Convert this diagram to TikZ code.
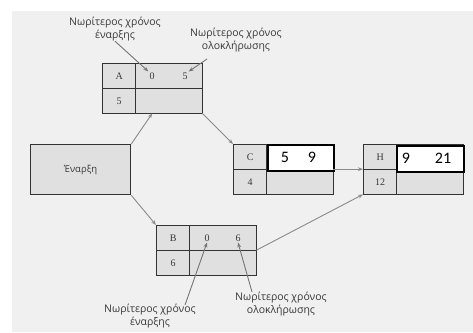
\documentclass[tikz,border=0pt]{standalone}
\usepackage{fontspec}
\setmainfont{Liberation Serif}
\newfontfamily\labelfont{Open Sans}
\newfontfamily\numfont{Carlito}
\usetikzlibrary{arrows.meta,calc}

\definecolor{bgc}{HTML}{F0F0F0}
\definecolor{cellc}{HTML}{E0E0E0}
\definecolor{edgec}{HTML}{333333}
\definecolor{linkc}{HTML}{8A8A8A}
\definecolor{textc}{HTML}{383838}

\tikzset{
  cell/.style={draw=edgec, fill=cellc, line width=1.3pt, inner sep=0pt,
    anchor=north west, text=textc, font=\fontsize{10}{11}\selectfont},
  keycell/.style={cell, minimum width=33pt, minimum height=25pt},
  timecell/.style={cell, minimum width=67pt, minimum height=25pt},
  frame/.style={inner sep=0pt, minimum width=100pt, minimum height=50pt, anchor=north west},
  val/.style={inner sep=1pt, text=textc, font=\fontsize{10}{11}\selectfont},
  stamp/.style={draw=black, fill=white, line width=1.6pt, inner sep=0pt,
    anchor=north west, minimum width=66pt, minimum height=26pt},
  bignum/.style={inner sep=1pt, text=black, font=\numfont\fontsize{16}{18}\selectfont},
  link/.style={draw=linkc, line width=0.9pt, -{Stealth[length=5pt,width=3.8pt]}},
  pointer/.style={draw=linkc!85!black, line width=0.9pt, -{Stealth[length=5pt,width=3.8pt]}},
  note/.style={align=center, inner sep=0pt, text=textc,
    font=\labelfont\fontsize{10.5}{13}\selectfont},
}

% activity box: id, left, top, letter, duration
\newcommand\activitybox[5]{%
  \node[frame] (#1) at (#2,#3) {};
  \node[keycell] (#1k) at (#2,#3) {#4};
  \node[timecell] (#1t) at ($(#2,#3)+(33,0)$) {};
  \node[keycell] (#1d) at ($(#2,#3)+(0,25)$) {#5};
  \node[timecell] (#1s) at ($(#2,#3)+(33,25)$) {};
}

\begin{document}
\begin{tikzpicture}[x=1pt, y=-1pt]
  \useasboundingbox (0,0) rectangle (473,332);
  \fill[bgc] (12,11) rectangle (473,332);

  % start node
  \node[cell, minimum width=100pt, minimum height=50pt,
        font=\labelfont\fontsize{9.5}{11}\selectfont] (start) at (30,144) {Έναρξη};

  % activities
  \activitybox{A}{102}{63}{A}{5}
  \activitybox{C}{233}{144}{C}{4}
  \activitybox{H}{363}{144}{H}{12}
  \activitybox{B}{156}{225}{B}{6}

  % earliest start / finish values
  \node[val] (A0) at (152,76) {0};
  \node[val] (A5) at (185,76) {5};
  \node[val] (B0) at (207,238) {0};
  \node[val] (B6) at (238,238) {6};

  \node[stamp] (Cw) at (267,144) {};
  \node[bignum] (C5) at (285,157) {5};
  \node[bignum] (C9) at (312,157) {9};
  \node[stamp, minimum width=67pt] (Hw) at (396,145) {};
  \node[bignum] (H9) at (406,158) {9};
  \node[bignum] (H21) at (443,158) {21};

  % precedence links
  \draw[link] (start.north east) -- (A.south);
  \draw[link] (A.south east) -- (C.north west);
  \draw[link] (start.south east) -- (B.north west);
  \draw[link] (C.east) -- (H.west);
  \draw[link] (B.east) -- (H.south west);

  % annotations
  \node[note] (ta) at (115,29) {Νωρίτερος χρόνος\\έναρξης};
  \node[note] (tb) at (236,40) {Νωρίτερος χρόνος\\ολοκλήρωσης};
  \node[note] (ba) at (150,316) {Νωρίτερος χρόνος\\έναρξης};
  \node[note] (bb) at (281,304) {Νωρίτερος χρόνος\\ολοκλήρωσης};

  \coordinate (tbfoot) at (207,59);
  \coordinate (bafoot) at (185,305);
  \coordinate (bbfoot) at (252,292);

  \draw[pointer] (ta.south) -- (A0.north west);
  \draw[pointer] (tbfoot) -- (A5.north east);
  \draw[pointer] (bafoot) -- (B0.south);
  \draw[pointer] (bbfoot) -- (B6.south);
\end{tikzpicture}
\end{document}
